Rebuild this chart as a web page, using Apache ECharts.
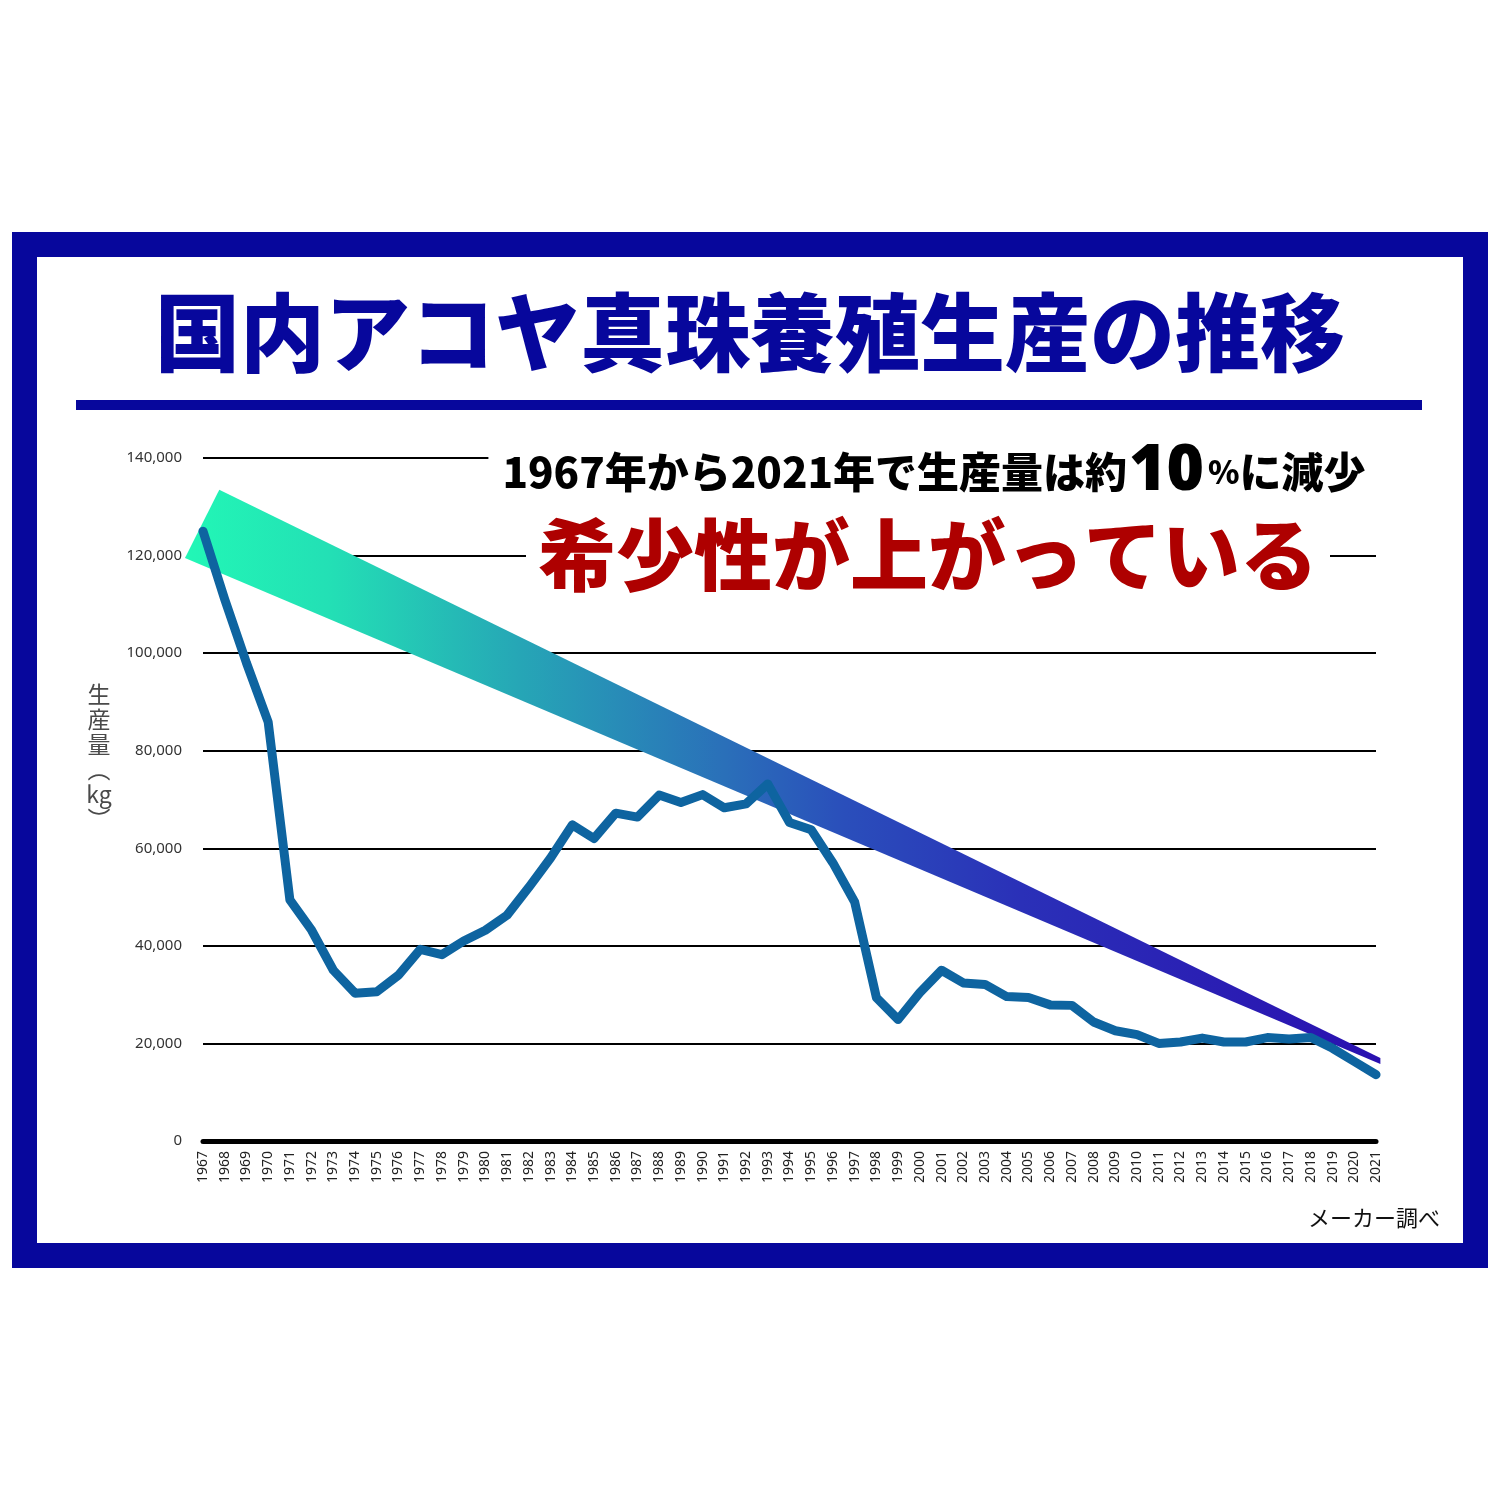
<!DOCTYPE html>
<html>
<head>
<meta charset="utf-8">
<script src="https://cdn.jsdelivr.net/npm/echarts@6/dist/echarts.min.js"></script>
<style>html,body{margin:0;padding:0;background:#fff;}#c{width:1500px;height:1500px;}</style>
</head>
<body>
<div id="c"></div>
<script>
// ---- data ----
const years = ['1967','1968','1969','1970','1971','1972','1973','1974','1975','1976','1977','1978','1979','1980',
  '1981','1982','1983','1984','1985','1986','1987','1988','1989','1990','1991','1992','1993','1994','1995','1996',
  '1997','1998','1999','2000','2001','2002','2003','2004','2005','2006','2007','2008','2009','2010','2011','2012',
  '2013','2014','2015','2016','2017','2018','2019','2020','2021'];
const production = [125000,111000,98000,85900,49400,43200,35000,30300,30600,34000,39300,38200,41000,43200,
  46300,52000,58000,64800,62000,67200,66400,70900,69400,71000,68300,69100,73200,65300,63800,57000,
  49000,29400,24900,30400,35000,32400,32100,29600,29400,27900,27800,24400,22600,21800,20000,20300,
  21100,20300,20300,21200,20900,21200,19000,16300,13600];
// trend ribbon corners (year, kg)
const bandYears = [1967.75, 2021.2, 2021.2, 1966.17];
const bandValues = [133500, 17000, 15800, 119500];
const yTicks = {min: 0, max: 140000, interval: 20000};

const titleText = '国内アコヤ真珠養殖生産の推移';
const noteText1a = '1967年から2021年で生産量は約';
const noteText1b = '10';
const noteText1c = '%';
const noteText1d = 'に減少';
const noteText2 = '希少性が上がっている';
const sourceText = 'メーカー調べ';
const yName = '生\n産\n量\n︵\nkg\n︶';

const NAVY = '#07079c';
const JP = '"Noto Sans CJK JP", "Noto Sans CJK SC", sans-serif';

const chart = echarts.init(document.getElementById('c'), null, {renderer: 'canvas'});

const bandFill = new echarts.graphic.LinearGradient(0, 0, 1, 0, [
  {offset: 0.00, color: '#22f7b6'},
  {offset: 0.12, color: '#23e0b5'},
  {offset: 0.28, color: '#26a6b6'},
  {offset: 0.45, color: '#2a70b9'},
  {offset: 0.55, color: '#2a4fbb'},
  {offset: 0.70, color: '#2a30b8'},
  {offset: 1.00, color: '#2a10b0'}
]);

const option = {
  animation: false,
  backgroundColor: '#ffffff',
  grid: {left: 203, right: 124, top: 458, bottom: 359},
  xAxis: [{
    type: 'category', data: years, boundaryGap: false,
    axisLine: {lineStyle: {color: '#000', width: 5}},
    axisTick: {show: false},
    splitLine: {show: false},
    axisLabel: {rotate: 90, interval: 0, fontSize: 14, color: '#222', margin: 10, fontFamily: '"Noto Sans", sans-serif'},
    z: 10
  }, {
    type: 'value', min: 1967, max: 2021, show: false
  }],
  yAxis: {
    type: 'value', min: yTicks.min, max: yTicks.max, interval: yTicks.interval,
    axisLine: {show: false}, axisTick: {show: false},
    splitLine: {lineStyle: {color: '#000', width: 2}},
    axisLabel: {fontSize: 15, color: '#333', margin: 21, fontFamily: '"Noto Sans", sans-serif'}
  },
  series: [{
    type: 'custom',
    xAxisIndex: 1,
    clip: false,
    silent: true,
    z: 3,
    data: [[1967, 0]],
    renderItem: function (params, api) {
      const pts = bandYears.map(function (yr, i) { return api.coord([yr, bandValues[i]]); });
      return {type: 'polygon', shape: {points: pts}, style: {fill: bandFill}};
    }
  }, {
    type: 'line',
    data: production,
    symbol: 'none',
    smooth: false,
    z: 5,
    lineStyle: {color: '#0e64a0', width: 9, cap: 'round', join: 'round'}
  }],
  graphic: [
    {type: 'rect', z: 200, shape: {x: 24.5, y: 244.5, width: 1451, height: 1011},
      style: {fill: 'none', stroke: NAVY, lineWidth: 25}},
    {type: 'rect', z: 200, shape: {x: 76, y: 400, width: 1346, height: 10}, style: {fill: NAVY}},
    {type: 'text', z: 200, x: 750, y: 333,
      style: {text: titleText, fill: NAVY, font: '900 85px ' + JP, align: 'center', verticalAlign: 'middle'}},
    {type: 'text', z: 150, x: 934, y: 472,
      style: {
        text: '{a|' + noteText1a + '}{b|' + noteText1b + '}{c|' + noteText1c + '}{a|' + noteText1d + '}',
        align: 'center', verticalAlign: 'middle',
        backgroundColor: '#fff', padding: [0, 14, 0, 14],
        rich: {
          a: {fontSize: 42, fontWeight: 900, fontFamily: JP, color: '#111', verticalAlign: 'middle'},
          b: {fontSize: 64, fontWeight: 900, fontFamily: '"Noto Sans", sans-serif', color: '#111', verticalAlign: 'middle', padding: [0, 4, 0, 2]},
          c: {fontSize: 32, fontWeight: 900, fontFamily: JP, color: '#111', verticalAlign: 'middle'}
        }
      }},
    {type: 'text', z: 150, x: 928, y: 555,
      style: {text: noteText2, fill: '#ae0000', font: '900 78px ' + JP, align: 'center', verticalAlign: 'middle',
        backgroundColor: '#fff', padding: [0, 12]}},
    {type: 'text', z: 150, x: 99, y: 757,
      style: {text: yName, fill: '#4a4a4a', font: '400 23px ' + JP, lineHeight: 25, align: 'center', verticalAlign: 'middle'}},
    {type: 'text', z: 150, x: 1440, y: 1218,
      style: {text: sourceText, fill: '#111', font: '400 22px ' + JP, align: 'right', verticalAlign: 'middle'}}
  ]
};
chart.setOption(option);
</script>
</body>
</html>
